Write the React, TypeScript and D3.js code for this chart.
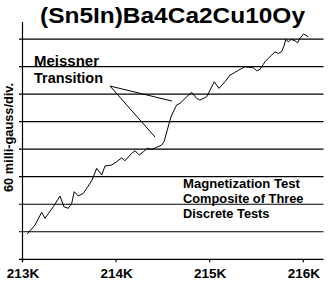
import React from "react";
import * as d3 from "d3";

const title = "(Sn5In)Ba4Ca2Cu10Oy";
const yLabel = "60 milli-gauss/div.";
const xTicks = [213, 214, 215, 216];
const xTickLabels = ["213K", "214K", "215K", "216K"];
const yTicks = [0, 1, 2, 3, 4, 5, 6, 7, 8];

// temperature (K)
const temps = [
  213.051, 213.134, 213.205, 213.24, 213.329, 213.401, 213.443, 213.489, 213.526, 213.553,
  213.596, 213.65, 213.739, 213.793, 213.846, 213.881, 213.953, 214.006, 214.06, 214.095,
  214.167, 214.202, 214.248, 214.291, 214.333, 214.38, 214.434, 214.487, 214.512, 214.547,
  214.576, 214.594, 214.647, 214.683, 214.754, 214.808, 214.861, 214.896, 214.968, 215.049,
  215.099, 215.163, 215.217, 215.263, 215.324, 215.377, 215.466, 215.502, 215.537, 215.591,
  215.626, 215.662, 215.698, 215.733, 215.769, 215.797, 215.812, 215.84, 215.869, 215.911,
  215.94, 215.965, 216.0, 216.026, 216.053,
];
// magnetization (divisions)
const signal = [
  0.92, 1.245, 1.707, 1.489, 1.91, 2.298, 1.91, 1.852, 2.033, 2.455,
  2.298, 2.397, 2.85, 3.304, 3.061, 3.388, 3.424, 3.544, 3.689, 3.58,
  3.849, 3.943, 3.787, 3.907, 4.031, 3.994, 4.067, 4.15, 4.27, 4.695,
  5.06, 5.24, 5.603, 5.664, 5.904, 6.064, 5.846, 5.784, 5.904, 6.449,
  6.209, 6.449, 6.692, 6.776, 6.899, 6.993, 6.957, 6.848, 6.899, 7.175,
  7.298, 7.418, 7.538, 7.48, 7.538, 7.781, 7.988, 7.901, 7.988, 7.937,
  7.865, 8.025, 8.181, 8.145, 8.083,
];

const annotation1 = ["Meissner", "Transition"];
const annotation2 = ["Magnetization Test", "Composite of Three", "Discrete Tests"];
// pointer lines: origin and targets (data units)
const pointerFrom = [213.935, 6.294];
const pointerTo = [
  [214.597, 5.749],
  [214.416, 4.441],
];

export default function App() {
  const W = 329;
  const H = 287;
  const x = d3.scaleLinear().domain([213, 216.216]).range([22.5, 323.5]);
  const y = d3.scaleLinear().domain([0, 8.62]).range([259.3, 22]);
  const pts = temps.map((t, i) => [t, signal[i]] as [number, number]);
  const line = d3
    .line<[number, number]>()
    .x((d) => x(d[0]))
    .y((d) => y(d[1]));
  const font = "'Liberation Sans', Arial, sans-serif";

  return (
    <svg
      width={W}
      height={H}
      style={{ position: "absolute", left: 0, top: 0, background: "#fff" }}
      fontFamily={font}
      fontWeight="bold"
    >
      <rect x={0} y={0} width={W} height={H} fill="#fff" />
      <text x={172.5} y={23} fontSize={22} textAnchor="middle" textLength={265} lengthAdjust="spacingAndGlyphs">
        {title}
      </text>
      {/* gridlines */}
      {yTicks.map((v) => (
        <line key={v} x1={19} x2={323.5} y1={y(v)} y2={y(v)} stroke="#000" strokeWidth={1.2} />
      ))}
      {/* y axis */}
      <line x1={22.5} x2={22.5} y1={22} y2={262} stroke="#000" strokeWidth={1.2} />
      {xTicks.map((v, i) => (
        <g key={v}>
          <line x1={x(v)} x2={x(v)} y1={y(0)} y2={y(0) + 3} stroke="#000" strokeWidth={1.2} />
          <text x={x(v) + 0.5} y={278} fontSize={13.5} textAnchor="middle">
            {xTickLabels[i]}
          </text>
        </g>
      ))}
      <text
        transform={`translate(12.5,137.5) rotate(-90)`}
        fontSize={12.5}
        textAnchor="middle"
        textLength={109}
        lengthAdjust="spacingAndGlyphs"
      >
        {yLabel}
      </text>
      <path d={line(pts) || ""} fill="none" stroke="#000" strokeWidth={1} />
      {pointerTo.map((p, i) => (
        <line
          key={i}
          x1={x(pointerFrom[0])}
          y1={y(pointerFrom[1])}
          x2={x(p[0])}
          y2={y(p[1])}
          stroke="#000"
          strokeWidth={1}
        />
      ))}
      <text x={34} y={66} fontSize={14} textLength={65} lengthAdjust="spacingAndGlyphs">
        {annotation1[0]}
      </text>
      <text x={34} y={83.3} fontSize={14} textLength={69} lengthAdjust="spacingAndGlyphs">
        {annotation1[1]}
      </text>
      <text x={183} y={188.3} fontSize={12.5} textLength={117} lengthAdjust="spacingAndGlyphs">
        {annotation2[0]}
      </text>
      <text x={183} y={202.7} fontSize={12.5} textLength={120.5} lengthAdjust="spacingAndGlyphs">
        {annotation2[1]}
      </text>
      <text x={183} y={217.7} fontSize={12.5} textLength={86.5} lengthAdjust="spacingAndGlyphs">
        {annotation2[2]}
      </text>
    </svg>
  );
}
